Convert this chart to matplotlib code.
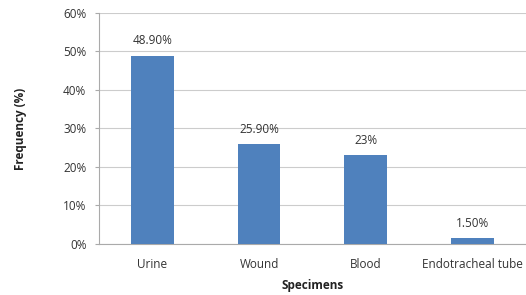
import matplotlib
matplotlib.use("Agg")
import matplotlib.pyplot as plt
from matplotlib.ticker import FuncFormatter

categories = ["Urine", "Wound", "Blood", "Endotracheal tube"]
values = [48.9, 25.9, 23.0, 1.5]
labels = ["48.90%", "25.90%", "23%", "1.50%"]
yticks = [0, 10, 20, 30, 40, 50, 60]

plt.rcParams['font.family'] = ['Open Sans', 'DejaVu Sans']

fig = plt.figure(figsize=(5.26, 2.95), dpi=100)
ax = fig.add_axes([0.188, 0.173, 0.812, 0.783])

x = range(len(categories))
ax.bar(x, values, width=0.4, color="#4F81BD", zorder=3)
for xi, v, lab in zip(x, values, labels):
    ax.text(xi, v + 2.2, lab, ha="center", va="bottom", fontsize=8.5, color="#333333")

ax.set_xlim(-0.5, len(categories) - 0.5)
ax.set_ylim(0, 60)
ax.set_yticks(yticks)
ax.yaxis.set_major_formatter(FuncFormatter(lambda v, p: f"{int(v)}%"))
ax.set_xticks(list(x))
ax.set_xticklabels(categories)
ax.tick_params(axis="x", labelsize=8.5, colors="#333333", length=0, pad=10)
ax.tick_params(axis="y", labelsize=8.5, colors="#333333", length=3, color="#aaaaaa", pad=6)
ax.grid(axis="y", color="#cccccc", linewidth=0.8, zorder=0)
for s in ["top", "right"]:
    ax.spines[s].set_visible(False)
ax.spines["left"].set_color("#aaaaaa")
ax.spines["bottom"].set_color("#aaaaaa")
ax.set_xlabel("Specimens", fontsize=8.5, fontweight="bold", color="#222222", labelpad=6)
ax.set_ylabel("Frequency (%)", fontsize=8.5, fontweight="bold", color="#222222", labelpad=26)

fig.savefig("out.png", dpi=100)
